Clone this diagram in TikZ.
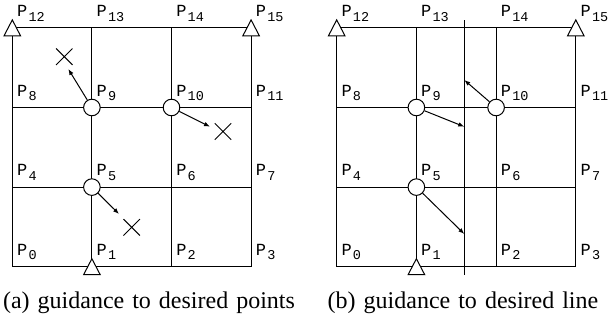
\documentclass[tikz,border=0pt]{standalone}
\usepackage{fontspec}
\setmainfont{Liberation Serif}
\setmonofont{Liberation Mono}
\usetikzlibrary{arrows.meta}
\newcommand\capfont{\fontsize{24}{24}\selectfont\spaceskip 8pt\relax}
\newcommand\psub[1]{P\hspace{1.2pt}\raisebox{-4.6pt}{\fontsize{13.5}{13.5}\selectfont #1}}
\begin{document}
\begin{tikzpicture}[x=1pt,y=-1pt,
  gridline/.style={line width=1pt},
  hole/.style={circle, draw, fill=white, line width=1pt, minimum size=16.6pt, inner sep=0pt},
  support/.style={draw, fill=white, line width=1pt, line join=miter},
  tipped/.style={-{Latex[length=6pt,width=4.6pt]}, line width=1pt},
  crossmark/.style={line width=1pt},
  plabel/.style={anchor=base west, inner sep=0pt, font=\fontsize{17}{17}\ttfamily},
  captext/.style={anchor=base, inner sep=0pt, font=\capfont}]
\useasboundingbox (0,0) rectangle (613,322);
\foreach \k in {0,...,15}{
  \pgfmathtruncatemacro\col{mod(\k,4)}
  \pgfmathtruncatemacro\row{div(\k,4)}
  \coordinate (a\k) at ({12.3+79.6*\col},{266.7-79.6*\row});
  \coordinate (b\k) at ({336.7+79.7*\col},{266.7-79.6*\row});
}
\foreach \r in {0,4,8,12}{
  \pgfmathtruncatemacro\e{\r+3}
  \draw[gridline] (a\r) -- (a\e);
  \draw[gridline] (b\r) -- (b\e);
}
\foreach \c in {0,1,2,3}{
  \pgfmathtruncatemacro\e{\c+12}
  \draw[gridline] (a\c) -- (a\e);
  \draw[gridline] (b\c) -- (b\e);
}
\foreach \k in {0,...,15}{
  \node[plabel] (la\k) at ([xshift=4.6pt,yshift=11.4pt]a\k) {\psub{\k}};
  \node[plabel] (lb\k) at ([xshift=4.6pt,yshift=11.4pt]b\k) {\psub{\k}};
}
\foreach \p in {a12,a15,a1,b12,b15,b1}{
  \path[support] (\p) ++(-8.3,8) -- ++(8.3,-16) -- ++(8.3,16) -- cycle;
}
\coordinate (lt) at (464.3,20);
\coordinate (lbot) at (464.3,275);
\draw[gridline] (lt) -- (lbot);
\node[hole] (ca9) at (a9) {};
\node[hole] (ca10) at (a10) {};
\node[hole] (ca5) at (a5) {};
\node[hole] (cb9) at (b9) {};
\node[hole] (cb10) at (b10) {};
\node[hole] (cb5) at (b5) {};
\coordinate (x1) at (64.3,56.7);
\coordinate (x2) at (223,131.5);
\coordinate (x3) at (131.7,227.3);
\foreach \x in {x1,x2,x3}{
  \draw[crossmark] (\x) ++(-8.2,-8.2) -- ++(16.4,16.4) (\x) ++(-8.2,8.2) -- ++(16.4,-16.4);
}
\coordinate (t1) at (68.3,69);
\coordinate (t2) at (210,126.7);
\coordinate (t3) at (119,214);
\coordinate (t4) at (464.3,80);
\coordinate (t5) at (464.3,126.7);
\coordinate (t6) at (464.3,234);
\draw[tipped] (ca9) -- (t1);
\draw[tipped] (ca10) -- (t2);
\draw[tipped] (ca5) -- (t3);
\draw[tipped] (cb10) -- (t4);
\draw[tipped] (cb9) -- (t5);
\draw[tipped] (cb5) -- (t6);
\node[captext] (capa) at (149,308) {(a) guidance to desired points};
\node[captext] (capb) at (463,308) {(b) guidance to desired line};
\end{tikzpicture}
\end{document}
